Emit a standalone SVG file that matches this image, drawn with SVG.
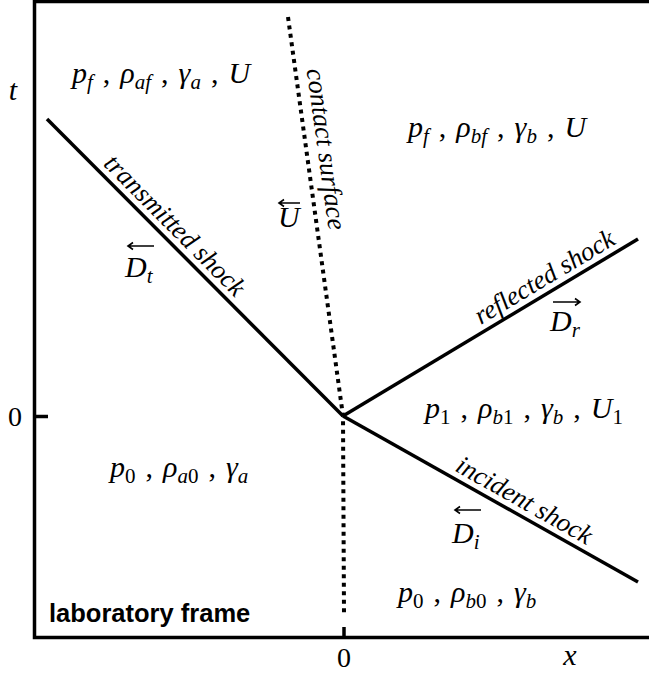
<svg xmlns="http://www.w3.org/2000/svg" width="649" height="674" viewBox="0 0 649 674">
<style>
.ax{stroke:#000;stroke-width:3.5;fill:none}
.sh{stroke:#000;stroke-width:3.5;fill:none;stroke-linecap:butt}
.cs{stroke:#000;stroke-width:4;fill:none;stroke-dasharray:4 4.5}
.ar{stroke:#000;stroke-width:1.6;fill:none}
.m{font-family:"Liberation Serif","Times New Roman",serif;font-style:italic;font-size:30px;fill:#000;word-spacing:2.5px}
.n{font-family:"Liberation Serif","Times New Roman",serif;font-style:normal;font-size:28px;fill:#000}
.s{font-size:21px}
.u{font-style:normal}
.l{font-family:"Liberation Serif","Times New Roman",serif;font-style:italic;font-size:26.5px;fill:#000}
.b{font-family:"Liberation Sans",Arial,sans-serif;font-weight:bold;font-size:25.5px;fill:#000}
</style>
<rect width="649" height="674" fill="#fff"/>
<g id="axes">
<path class="ax" d="M649 1.5 H34.5 V637.5 H649"/>
<path class="ax" d="M34.5 416.5 H48"/>
<path class="ax" d="M344 637.5 V627"/>
<text class="m" x="13" y="100" text-anchor="middle">t</text>
<text class="n" x="15" y="426" text-anchor="middle">0</text>
<text class="n" x="344" y="667" text-anchor="middle">0</text>
<text class="m" x="570" y="665" text-anchor="middle">x</text>
<text class="b" x="49" y="622">laboratory frame</text>
</g>
<g id="connectors">
<path id="transmitted" class="sh" d="M47 119 L343 416"/>
<path id="reflected" class="sh" d="M343 416 L638 239"/>
<path id="incident" class="sh" d="M343 416 L638 582"/>
<path id="contact" class="cs" d="M288 17 L343 416 L344 615"/>
</g>
<g id="transmitted-label">
<text class="l" transform="translate(163.8,236.2) rotate(45.1)" x="0" y="-7" text-anchor="middle">transmitted shock</text>
</g>
<g id="contact-label">
<text class="l" transform="translate(306.8,151.8) rotate(82.15)" x="0" y="-11" text-anchor="middle">contact surface</text>
</g>
<g id="reflected-label">
<text class="l" transform="translate(552.4,290.3) rotate(-30.96)" x="0" y="-7" text-anchor="middle">reflected shock</text>
</g>
<g id="incident-label">
<text class="l" transform="translate(516.8,513.8) rotate(29.4)" x="0" y="-7" text-anchor="middle">incident shock</text>
</g>
<g id="region-af">
<text class="m" x="72" y="83">p<tspan class="s" dy="6">f</tspan><tspan dy="-6" class="u"> , </tspan>ρ<tspan class="s" dy="6">af</tspan><tspan dy="-6" class="u"> , </tspan>γ<tspan class="s" dy="6">a</tspan><tspan dy="-6" class="u"> , </tspan>U</text>
</g>
<g id="region-bf">
<text class="m" x="408" y="137">p<tspan class="s" dy="6">f</tspan><tspan dy="-6" class="u"> , </tspan>ρ<tspan class="s" dy="6">bf</tspan><tspan dy="-6" class="u"> , </tspan>γ<tspan class="s" dy="6">b</tspan><tspan dy="-6" class="u"> , </tspan>U</text>
</g>
<g id="region-b1">
<text class="m" x="425" y="418">p<tspan class="s u" dy="6">1</tspan><tspan dy="-6" class="u"> , </tspan>ρ<tspan class="s" dy="6">b</tspan><tspan class="s u">1</tspan><tspan dy="-6" class="u"> , </tspan>γ<tspan class="s" dy="6">b</tspan><tspan dy="-6" class="u"> , </tspan>U<tspan class="s u" dy="6">1</tspan></text>
</g>
<g id="region-a0">
<text class="m" x="110" y="477">p<tspan class="s u" dy="6">0</tspan><tspan dy="-6" class="u"> , </tspan>ρ<tspan class="s" dy="6">a</tspan><tspan class="s u">0</tspan><tspan dy="-6" class="u"> , </tspan>γ<tspan class="s" dy="6">a</tspan></text>
</g>
<g id="region-b0">
<text class="m" x="398" y="602">p<tspan class="s u" dy="6">0</tspan><tspan dy="-6" class="u"> , </tspan>ρ<tspan class="s" dy="6">b</tspan><tspan class="s u">0</tspan><tspan dy="-6" class="u"> , </tspan>γ<tspan class="s" dy="6">b</tspan></text>
</g>
<g id="vec-U">
<path class="ar" d="M279 203 H300 M284 199.5 L279 203 L284 206.5"/>
<text class="m" x="278" y="227">U</text>
</g>
<g id="vec-Dt">
<path class="ar" d="M128 246 H154 M133 242.5 L128 246 L133 249.5"/>
<text class="m" x="125" y="277">D<tspan class="s" dy="6">t</tspan></text>
</g>
<g id="vec-Dr">
<path class="ar" d="M553 302 H580 M575 298.5 L580 302 L575 305.5"/>
<text class="m" x="550" y="331">D<tspan class="s" dy="6">r</tspan></text>
</g>
<g id="vec-Di">
<path class="ar" d="M455 510 H481 M460 506.5 L455 510 L460 513.5"/>
<text class="m" x="452" y="543">D<tspan class="s" dy="6">i</tspan></text>
</g>
</svg>
